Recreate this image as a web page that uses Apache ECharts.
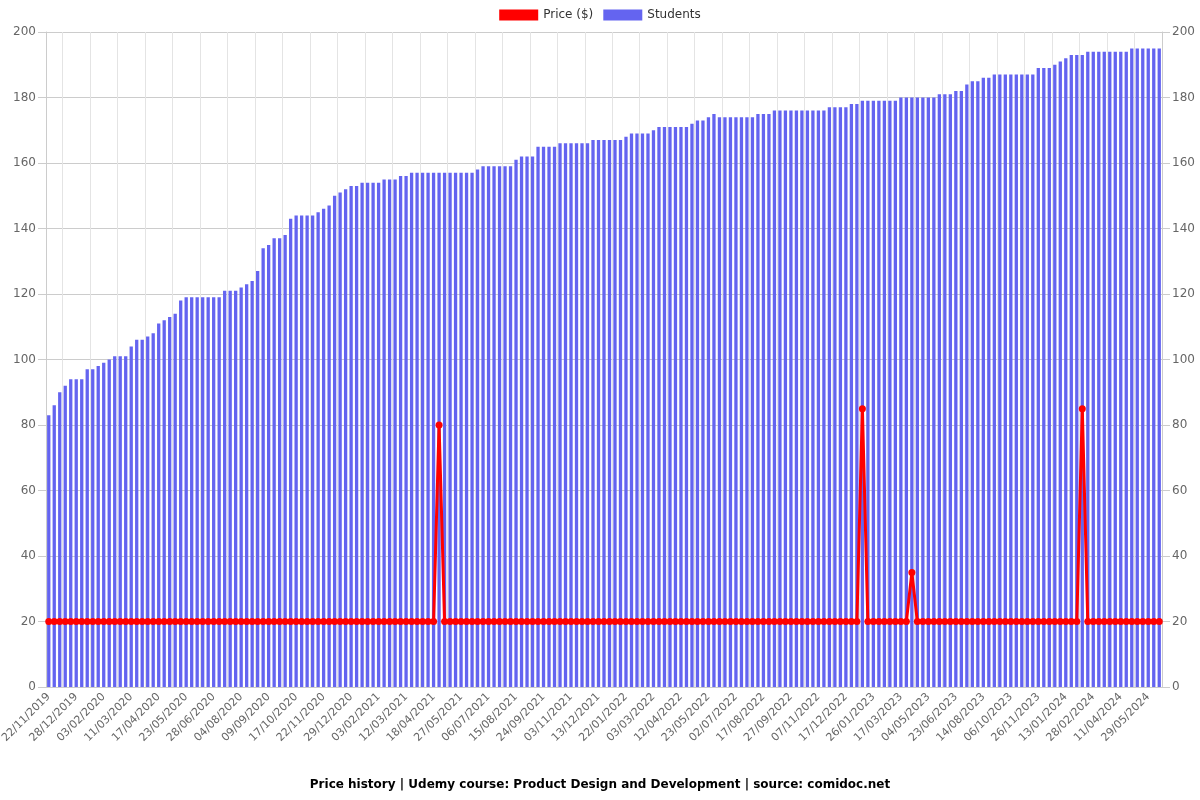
<!DOCTYPE html>
<html>
<head>
<meta charset="utf-8">
<script src="https://cdn.jsdelivr.net/npm/echarts@6/dist/echarts.min.js"></script>
<style>html,body{margin:0;padding:0;background:#fff}#c{width:1200px;height:800px}</style>
</head>
<body>
<div id="c"></div>
<script>
const dates = [
"22/11/2019","29/11/2019","06/12/2019","13/12/2019","20/12/2019",
"28/12/2019","04/01/2020","11/01/2020","19/01/2020","26/01/2020",
"03/02/2020","10/02/2020","17/02/2020","25/02/2020","03/03/2020",
"11/03/2020","18/03/2020","25/03/2020","02/04/2020","09/04/2020",
"17/04/2020","24/04/2020","01/05/2020","08/05/2020","15/05/2020",
"23/05/2020","30/05/2020","06/06/2020","13/06/2020","20/06/2020",
"28/06/2020","05/07/2020","12/07/2020","20/07/2020","27/07/2020",
"04/08/2020","11/08/2020","18/08/2020","25/08/2020","01/09/2020",
"09/09/2020","16/09/2020","24/09/2020","01/10/2020","09/10/2020",
"17/10/2020","24/10/2020","31/10/2020","07/11/2020","14/11/2020",
"22/11/2020","29/11/2020","06/12/2020","14/12/2020","21/12/2020",
"29/12/2020","05/01/2021","12/01/2021","19/01/2021","26/01/2021",
"03/02/2021","10/02/2021","17/02/2021","25/02/2021","04/03/2021",
"12/03/2021","19/03/2021","26/03/2021","03/04/2021","10/04/2021",
"18/04/2021","26/04/2021","04/05/2021","11/05/2021","19/05/2021",
"27/05/2021","04/06/2021","12/06/2021","20/06/2021","28/06/2021",
"06/07/2021","14/07/2021","22/07/2021","30/07/2021","07/08/2021",
"15/08/2021","23/08/2021","31/08/2021","08/09/2021","16/09/2021",
"24/09/2021","02/10/2021","10/10/2021","18/10/2021","26/10/2021",
"03/11/2021","11/11/2021","19/11/2021","27/11/2021","05/12/2021",
"13/12/2021","21/12/2021","29/12/2021","06/01/2022","14/01/2022",
"22/01/2022","30/01/2022","07/02/2022","15/02/2022","23/02/2022",
"03/03/2022","11/03/2022","19/03/2022","27/03/2022","04/04/2022",
"12/04/2022","20/04/2022","28/04/2022","06/05/2022","14/05/2022",
"23/05/2022","31/05/2022","08/06/2022","16/06/2022","24/06/2022",
"02/07/2022","11/07/2022","20/07/2022","29/07/2022","07/08/2022",
"17/08/2022","25/08/2022","02/09/2022","10/09/2022","18/09/2022",
"27/09/2022","05/10/2022","13/10/2022","21/10/2022","29/10/2022",
"07/11/2022","15/11/2022","23/11/2022","01/12/2022","09/12/2022",
"17/12/2022","25/12/2022","02/01/2023","10/01/2023","18/01/2023",
"26/01/2023","05/02/2023","15/02/2023","25/02/2023","07/03/2023",
"17/03/2023","27/03/2023","06/04/2023","15/04/2023","25/04/2023",
"04/05/2023","14/05/2023","24/05/2023","03/06/2023","13/06/2023",
"23/06/2023","03/07/2023","14/07/2023","24/07/2023","03/08/2023",
"14/08/2023","24/08/2023","04/09/2023","15/09/2023","25/09/2023",
"06/10/2023","16/10/2023","26/10/2023","05/11/2023","16/11/2023",
"26/11/2023","06/12/2023","15/12/2023","25/12/2023","04/01/2024",
"13/01/2024","22/01/2024","31/01/2024","09/02/2024","19/02/2024",
"28/02/2024","07/03/2024","16/03/2024","24/03/2024","02/04/2024",
"11/04/2024","21/04/2024","30/04/2024","10/05/2024","19/05/2024",
"29/05/2024","07/06/2024","16/06/2024"
];

const students = [
83,86,90,92,94,94,94,97,97,98,
99,100,101,101,101,104,106,106,107,108,
111,112,113,114,118,119,119,119,119,119,
119,119,121,121,121,122,123,124,127,134,
135,137,137,138,143,144,144,144,144,145,
146,147,150,151,152,153,153,154,154,154,
154,155,155,155,156,156,157,157,157,157,
157,157,157,157,157,157,157,157,158,159,
159,159,159,159,159,161,162,162,162,165,
165,165,165,166,166,166,166,166,166,167,
167,167,167,167,167,168,169,169,169,169,
170,171,171,171,171,171,171,172,173,173,
174,175,174,174,174,174,174,174,174,175,
175,175,176,176,176,176,176,176,176,176,
176,176,177,177,177,177,178,178,179,179,
179,179,179,179,179,180,180,180,180,180,
180,180,181,181,181,182,182,184,185,185,
186,186,187,187,187,187,187,187,187,187,
189,189,189,190,191,192,193,193,193,194,
194,194,194,194,194,194,194,195,195,195,
195,195,195
];

const prices = [
20,20,20,20,20,20,20,20,20,20,
20,20,20,20,20,20,20,20,20,20,
20,20,20,20,20,20,20,20,20,20,
20,20,20,20,20,20,20,20,20,20,
20,20,20,20,20,20,20,20,20,20,
20,20,20,20,20,20,20,20,20,20,
20,20,20,20,20,20,20,20,20,20,
20,80,20,20,20,20,20,20,20,20,
20,20,20,20,20,20,20,20,20,20,
20,20,20,20,20,20,20,20,20,20,
20,20,20,20,20,20,20,20,20,20,
20,20,20,20,20,20,20,20,20,20,
20,20,20,20,20,20,20,20,20,20,
20,20,20,20,20,20,20,20,20,20,
20,20,20,20,20,20,20,20,85,20,
20,20,20,20,20,20,20,35,20,20,
20,20,20,20,20,20,20,20,20,20,
20,20,20,20,20,20,20,20,20,20,
20,20,20,20,20,20,20,20,85,20,
20,20,20,20,20,20,20,20,20,20,
20,20,20
];

const yMin = 0, yMax = 200, yStep = 20;
const titleText = 'Price history | Udemy course: Product Design and Development | source: comidoc.net';

const chart = echarts.init(document.getElementById('c'), null, {renderer: 'canvas'});
const axisGray = '#cccccc';
const labelGray = '#666666';
const tickEvery = function (idx) { return idx % 5 === 3; };
const option = {
  animation: false,
  textStyle: {fontFamily: 'DejaVu Sans'},
  title: {
    text: titleText, left: 'center', top: 774,
    textStyle: {fontSize: 12, fontWeight: 'bold', color: '#000', fontFamily: 'DejaVu Sans'}
  },
  legend: {
    top: 4, left: 'center', icon: 'rect', itemWidth: 39, itemHeight: 11, itemGap: 10,
    textStyle: {fontSize: 12, color: '#333', fontFamily: 'DejaVu Sans'},
    data: ['Price ($)', 'Students']
  },
  grid: {left: 46, right: 38, top: 32, bottom: 113, containLabel: false, outerBoundsMode: 'none'},
  xAxis: {
    type: 'category', data: dates, boundaryGap: true,
    axisLine: {lineStyle: {color: axisGray}},
    axisTick: {length: 8, interval: tickEvery, lineStyle: {color: axisGray}},
    axisLabel: {rotate: 45, interval: 4, fontSize: 11, color: labelGray, fontFamily: 'DejaVu Sans'},
    splitLine: {show: true, interval: tickEvery, lineStyle: {color: '#e4e4e4'}}
  },
  yAxis: [
    {
      type: 'value', min: yMin, max: yMax, interval: yStep, position: 'left',
      axisLine: {show: true, lineStyle: {color: axisGray}},
      axisTick: {show: true, length: 8, lineStyle: {color: axisGray}},
      axisLabel: {fontSize: 12, color: labelGray, margin: 10, fontFamily: 'DejaVu Sans'},
      splitLine: {show: true, lineStyle: {color: '#cccccc'}}
    },
    {
      type: 'value', min: yMin, max: yMax, interval: yStep, position: 'right',
      axisLine: {show: true, lineStyle: {color: axisGray}},
      axisTick: {show: true, length: 8, lineStyle: {color: axisGray}},
      axisLabel: {fontSize: 12, color: labelGray, margin: 10, fontFamily: 'DejaVu Sans'},
      splitLine: {show: false}
    }
  ],
  series: [
    {
      name: 'Price ($)', type: 'line', yAxisIndex: 0, data: prices,
      color: '#ff0000', lineStyle: {width: 3, color: '#ff0000'},
      itemStyle: {color: '#ff0000'},
      symbol: 'circle', symbolSize: 7, showSymbol: true, showAllSymbol: true, z: 3
    },
    {
      name: 'Students', type: 'bar', yAxisIndex: 1, data: students,
      color: '#6464f0', itemStyle: {color: '#6464f0'}, barWidth: '60%', z: 2
    }
  ]
};
chart.setOption(option);
</script>
</body>
</html>
